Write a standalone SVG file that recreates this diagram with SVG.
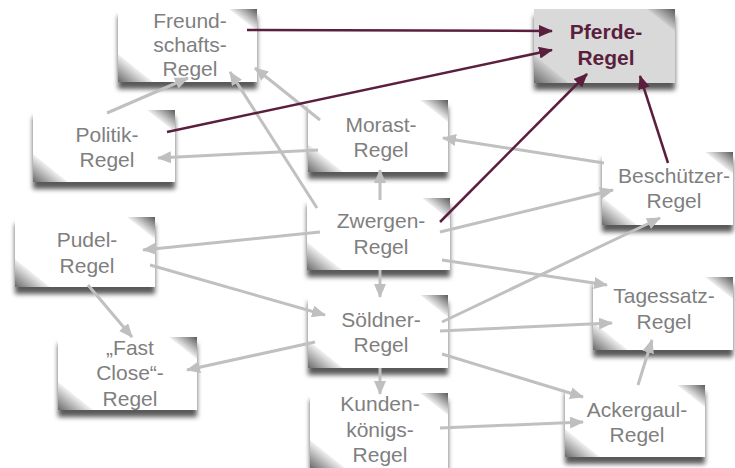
<svg xmlns="http://www.w3.org/2000/svg" width="735" height="468" viewBox="0 0 735 468">
<defs>
<filter id="sh" x="-10%" y="-10%" width="125%" height="140%">
<feDropShadow dx="0" dy="7" stdDeviation="2.5" flood-color="#000" flood-opacity="0.65"/>
</filter>
<linearGradient id="gTR" x1="0" y1="1" x2="1" y2="0">
<stop offset="0.45" stop-color="#fff"/><stop offset="1" stop-color="#5a5a5a"/>
</linearGradient>
<linearGradient id="gBL" x1="1" y1="0" x2="0" y2="1">
<stop offset="0.45" stop-color="#fff"/><stop offset="1" stop-color="#6a6a6a"/>
</linearGradient>
<linearGradient id="gTRp" x1="0" y1="1" x2="1" y2="0">
<stop offset="0.45" stop-color="#d9d9d9"/><stop offset="1" stop-color="#5a5a5a"/>
</linearGradient>
<linearGradient id="gBLp" x1="1" y1="0" x2="0" y2="1">
<stop offset="0.45" stop-color="#d9d9d9"/><stop offset="1" stop-color="#6a6a6a"/>
</linearGradient>
<marker id="ag" viewBox="0 0 14 12" refX="13" refY="6" markerWidth="14" markerHeight="12" markerUnits="userSpaceOnUse" orient="auto">
<path d="M0,0 L14,6 L0,12 Z" fill="#bfbfbf"/>
</marker>
<marker id="ap" viewBox="0 0 14 12" refX="13" refY="6" markerWidth="14" markerHeight="12" markerUnits="userSpaceOnUse" orient="auto">
<path d="M0,0 L14,6 L0,12 Z" fill="#5b1f3e"/>
</marker>
</defs>
<style>
.note{fill:#fff;filter:url(#sh)}
.pnote{fill:#d9d9d9;filter:url(#sh)}
.tr{fill:url(#gTR)}
.bl{fill:url(#gBL)}
.trp{fill:url(#gTRp)}
.blp{fill:url(#gBLp)}
text{font-family:"Liberation Sans",Arial,sans-serif;font-size:21px;fill:#7f7f7f;text-anchor:middle}
text.bold{font-weight:bold;fill:#5b1f3e;font-size:21px}
.g{stroke:#c0c0c0;stroke-width:3;fill:none;marker-end:url(#ag)}
.p{stroke:#5b1f3e;stroke-width:2.5;fill:none;marker-end:url(#ap)}
</style>

<g id="n-freundschaft">
<rect class="note" x="118" y="9" width="139" height="73"/>
<path class="tr" d="M229,9 L257,9 L257,31 Z"/>
<path class="bl" d="M118,54 L118,82 L153,82 Z"/>
<text x="190" y="28">Freund-</text>
<text x="190" y="52">schafts-</text>
<text x="190" y="76">Regel</text>
</g>

<g id="n-pferde">
<rect class="pnote" x="534" y="9" width="141" height="74"/>
<path class="trp" d="M647,9 L675,9 L675,31 Z"/>
<path class="blp" d="M534,55 L534,83 L569,83 Z"/>
<text class="bold" x="606" y="39">Pferde-</text>
<text class="bold" x="606" y="65">Regel</text>
</g>

<g id="n-politik">
<rect class="note" x="33" y="110" width="142" height="72"/>
<path class="tr" d="M147,110 L175,110 L175,132 Z"/>
<path class="bl" d="M33,154 L33,182 L68,182 Z"/>
<text x="107" y="142">Politik-</text>
<text x="107" y="167">Regel</text>
</g>

<g id="n-morast">
<rect class="note" x="308" y="100" width="140" height="72"/>
<path class="tr" d="M420,100 L448,100 L448,122 Z"/>
<path class="bl" d="M308,144 L308,172 L343,172 Z"/>
<text x="381" y="132">Morast-</text>
<text x="381" y="157">Regel</text>
</g>

<g id="n-beschuetzer">
<rect class="note" x="602" y="152" width="131" height="73"/>
<path class="tr" d="M705,152 L733,152 L733,174 Z"/>
<path class="bl" d="M602,197 L602,225 L637,225 Z"/>
<text x="674" y="183">Beschützer-</text>
<text x="674" y="208">Regel</text>
</g>

<g id="n-zwergen">
<rect class="note" x="307" y="198" width="143" height="72"/>
<path class="tr" d="M422,198 L450,198 L450,220 Z"/>
<path class="bl" d="M307,242 L307,270 L342,270 Z"/>
<text x="381" y="228">Zwergen-</text>
<text x="381" y="254">Regel</text>
</g>

<g id="n-pudel">
<rect class="note" x="15" y="217" width="140" height="70"/>
<path class="tr" d="M127,217 L155,217 L155,239 Z"/>
<path class="bl" d="M15,259 L15,287 L50,287 Z"/>
<text x="87" y="247">Pudel-</text>
<text x="87" y="273">Regel</text>
</g>

<g id="n-fastclose">
<rect class="note" x="58" y="337" width="139" height="73"/>
<path class="tr" d="M169,337 L197,337 L197,359 Z"/>
<path class="bl" d="M58,382 L58,410 L93,410 Z"/>
<text x="130" y="355">„Fast</text>
<text x="130" y="380">Close“-</text>
<text x="130" y="406">Regel</text>
</g>

<g id="n-soeldner">
<rect class="note" x="308" y="295" width="140" height="73"/>
<path class="tr" d="M420,295 L448,295 L448,317 Z"/>
<path class="bl" d="M308,340 L308,368 L343,368 Z"/>
<text x="381" y="327">Söldner-</text>
<text x="381" y="352">Regel</text>
</g>

<g id="n-tagessatz">
<rect class="note" x="593" y="277" width="140" height="73"/>
<path class="tr" d="M705,277 L733,277 L733,299 Z"/>
<path class="bl" d="M593,322 L593,350 L628,350 Z"/>
<text x="664" y="303">Tagessatz-</text>
<text x="664" y="329">Regel</text>
</g>

<g id="n-kunden">
<rect class="note" x="310" y="393" width="138" height="75"/>
<path class="tr" d="M420,393 L448,393 L448,415 Z"/>
<path class="bl" d="M310,440 L310,468 L345,468 Z"/>
<text x="380" y="411">Kunden-</text>
<text x="380" y="437">königs-</text>
<text x="380" y="462">Regel</text>
</g>

<g id="n-ackergaul">
<rect class="note" x="565" y="385" width="140" height="72"/>
<path class="tr" d="M677,385 L705,385 L705,407 Z"/>
<path class="bl" d="M565,429 L565,457 L600,457 Z"/>
<text x="637" y="417">Ackergaul-</text>
<text x="637" y="442">Regel</text>
</g>

<g id="connectors">
<line class="g" x1="107" y1="113" x2="188" y2="78"/>
<line class="g" x1="317" y1="208" x2="230" y2="72"/>
<line class="g" x1="320" y1="120" x2="255" y2="68"/>
<line class="g" x1="318" y1="150" x2="158" y2="158"/>
<line class="g" x1="604" y1="163" x2="443" y2="138"/>
<line class="g" x1="380" y1="200" x2="380" y2="170"/>
<line class="g" x1="440" y1="232" x2="613" y2="190"/>
<line class="g" x1="320" y1="232" x2="143" y2="250"/>
<line class="g" x1="380" y1="270" x2="380" y2="297"/>
<line class="g" x1="442" y1="260" x2="607" y2="285"/>
<line class="g" x1="150" y1="265" x2="325" y2="315"/>
<line class="g" x1="88" y1="285" x2="132" y2="337"/>
<line class="g" x1="315" y1="342" x2="187" y2="370"/>
<line class="g" x1="442" y1="322" x2="660" y2="218"/>
<line class="g" x1="440" y1="331" x2="612" y2="323"/>
<line class="g" x1="442" y1="354" x2="583" y2="397"/>
<line class="g" x1="380" y1="368" x2="380" y2="394"/>
<line class="g" x1="440" y1="428" x2="583" y2="422"/>
<line class="g" x1="638" y1="385" x2="652" y2="340"/>
<line class="p" x1="247" y1="30" x2="552" y2="31"/>
<line class="p" x1="167" y1="132" x2="552" y2="50"/>
<line class="p" x1="440" y1="222" x2="587" y2="74"/>
<line class="p" x1="668" y1="163" x2="640" y2="76"/>
</g>
</svg>
